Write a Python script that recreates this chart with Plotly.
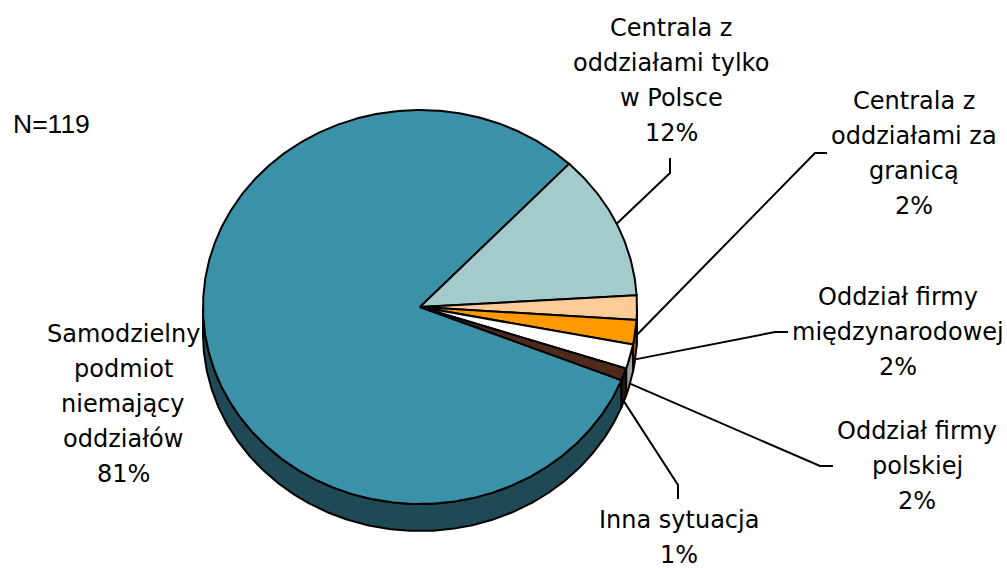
import numpy as np
import plotly.graph_objects as go

# ---------------- data ----------------
categories = [
    "Samodzielny podmiot niemający oddziałów",
    "Centrala z oddziałami tylko w Polsce",
    "Centrala z oddziałami za granicą",
    "Oddział firmy międzynarodowej",
    "Oddział firmy polskiej",
    "Inna sytuacja",
]
label_lines = [
    ["Samodzielny", "podmiot", "niemający", "oddziałów"],
    ["Centrala z", "oddziałami tylko", "w Polsce"],
    ["Centrala z", "oddziałami za", "granicą"],
    ["Oddział firmy", "międzynarodowej"],
    ["Oddział firmy", "polskiej"],
    ["Inna sytuacja"],
]
values = [81, 12, 2, 2, 2, 1]  # percent
n_total = 119

# ---------------- style / layout ----------------
top_colors = ["#3B91A7", "#A3CBCB", "#FFCC99", "#FF9900", "#FFFFFF", "#4D2A1C"]
side_colors = ["#1F4954", "#6F9292", "#B38F6B", "#B36B00", "#A0A0A0", "#2B1710"]
CX, CY, RX, RY, DEPTH = 420.0, 307.0, 217.0, 197.0, 27.0
START = -21.8  # parametric angle (deg) where first slice starts, going clockwise
FONT = "DejaVu Sans"
FS = 24
LINE_H = 35
label_pos = [(123, 334), (671, 28), (914, 101), (898, 297), (917, 431), (679, 520)]
elbows = [
    None,
    [(670, 173), (670, 158)],
    [(815, 153), (827, 153)],
    [(775, 332), (788, 332)],
    [(820, 466), (833, 466)],
    [(678, 485), (678, 499)],
]


def ell(t_deg, dy=0.0):
    t = np.radians(t_deg)
    return CX + RX * np.cos(t), CY - RY * np.sin(t) + dy


fig = go.Figure()

# slice angles
total = float(sum(values))
spans = []
cur = START
for v in values:
    a0 = cur
    a1 = cur - v / total * 360.0
    spans.append((a0, a1))
    cur = a1

# side faces (front half: sin(t) < 0)
for i, (a0, a1) in enumerate(spans):
    lo, hi = min(a0, a1), max(a0, a1)
    for k in range(-2, 2):
        f_lo, f_hi = -180 + 360 * k, 360 * k
        s_lo, s_hi = max(lo, f_lo), min(hi, f_hi)
        if s_hi - s_lo <= 0:
            continue
        ts = np.linspace(s_lo, s_hi, max(4, int((s_hi - s_lo) * 2)))
        xt, yt = ell(ts)
        xb, yb = ell(ts[::-1], DEPTH)
        xs = np.concatenate([xt, xb, xt[:1]])
        ys = np.concatenate([yt, yb, yt[:1]])
        fig.add_trace(go.Scatter(x=xs, y=ys, mode="lines", fill="toself",
                                 fillcolor=side_colors[i],
                                 line=dict(color="black", width=2),
                                 hoverinfo="skip", showlegend=False))

# top faces
for i, (a0, a1) in enumerate(spans):
    ts = np.linspace(a0, a1, max(4, int(abs(a0 - a1) * 2)))
    xa, ya = ell(ts)
    xs = np.concatenate([[CX], xa, [CX]])
    ys = np.concatenate([[CY], ya, [CY]])
    fig.add_trace(go.Scatter(x=xs, y=ys, mode="lines", fill="toself",
                             fillcolor=top_colors[i],
                             line=dict(color="black", width=2),
                             hoverinfo="skip", showlegend=False,
                             name=categories[i]))

# leader lines
for i, (a0, a1) in enumerate(spans):
    if elbows[i] is None:
        continue
    mid = (a0 + a1) / 2
    dy = DEPTH if np.sin(np.radians(mid)) < 0 else 0.0
    ax_, ay_ = ell(mid, dy)
    xs = [ax_] + [p[0] for p in elbows[i]]
    ys = [ay_] + [p[1] for p in elbows[i]]
    fig.add_trace(go.Scatter(x=xs, y=ys, mode="lines",
                             line=dict(color="black", width=2),
                             hoverinfo="skip", showlegend=False))

# labels
annotations = []
for i, v in enumerate(values):
    x0, y0 = label_pos[i]
    lines = label_lines[i] + [f"{v}%"]
    for j, txt in enumerate(lines):
        annotations.append(dict(x=x0, y=y0 + j * LINE_H, xref="x", yref="y",
                                text=txt, showarrow=False, xanchor="center",
                                yanchor="middle",
                                font=dict(family=FONT, size=FS, color="black")))
annotations.append(dict(x=11, y=124, xref="x", yref="y", text=f"N={n_total}",
                        showarrow=False, xanchor="left", yanchor="middle",
                        font=dict(family="Liberation Sans", size=26.5, color="black")))

fig.update_layout(
    width=1007, height=568,
    margin=dict(l=0, r=0, t=0, b=0, pad=0),
    paper_bgcolor="white", plot_bgcolor="white",
    xaxis=dict(range=[0, 1007], visible=False, fixedrange=True),
    yaxis=dict(range=[568, 0], visible=False, fixedrange=True),
    annotations=annotations,
    showlegend=False,
)

fig.write_html(
    "out.html",
    config={"displayModeBar": False},
    post_script="document.body.style.margin='0';document.body.style.overflow='hidden';",
)
